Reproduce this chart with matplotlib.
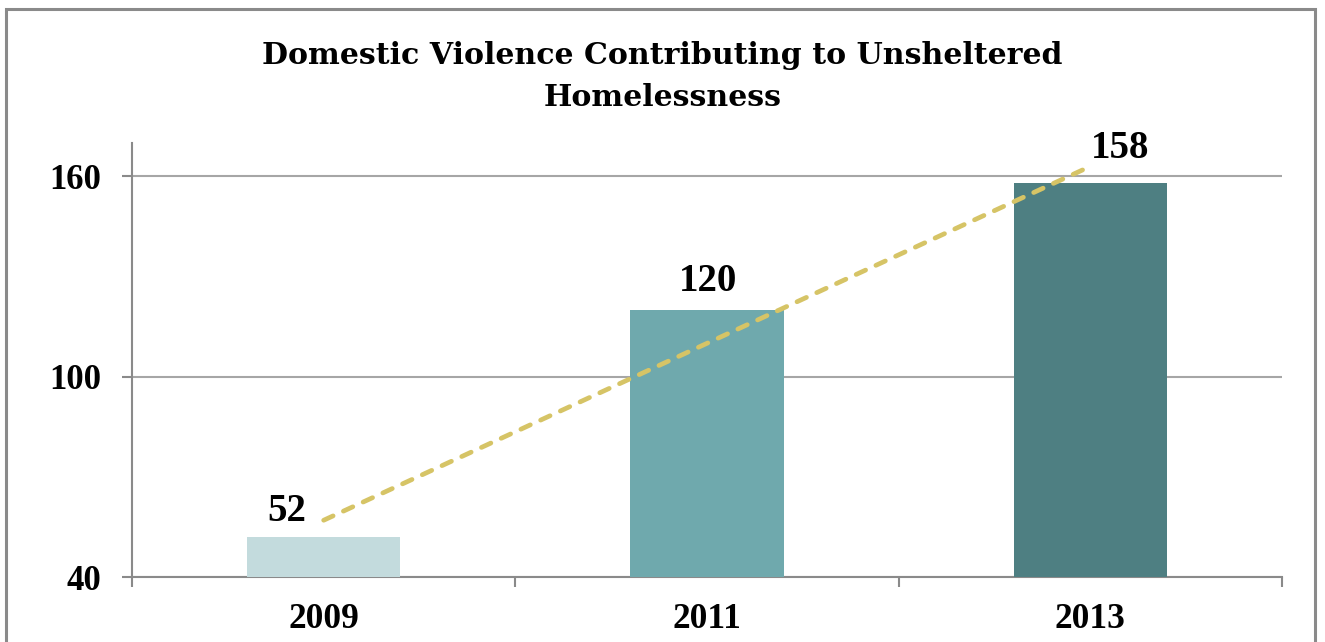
import matplotlib.pyplot as plt
import matplotlib.patches as mpatches
import numpy as np

# Datos
years = ['2009', '2011', '2013']
counts = [52, 120, 158]
bar_colors = ['#C3DBDD', '#6FA9AD', '#4E7F82']
# desplazamiento (px) de cada etiqueta de valor respecto a la parte superior de la barra
label_offsets = [(-37, 16), (1, 19), (30, 25)]

num_font = 'Liberation Serif'
title_font = 'DejaVu Serif'

fig = plt.figure(figsize=(13.25, 6.42), dpi=100)
ax = fig.add_axes([132/1325, 65/642, 1150/1325, 434/642])

x = np.arange(len(years))
ax.bar(x, counts, width=0.4, color=bar_colors, zorder=3)

# Línea de tendencia lineal
slope, intercept = np.polyfit(x, counts, 1)
ax.plot(x[[0, -1]], slope * x[[0, -1]] + intercept, color='#D6C466', lw=3.4,
        linestyle=(0, (2.2, 2.4)), dash_capstyle='round', zorder=4)

# Etiquetas de valor
for xi, v, (dx, dy) in zip(x, counts, label_offsets):
    ax.annotate(str(v), xy=(xi, v), xytext=(dx, dy), textcoords='offset pixels',
                ha='center', va='baseline', fontsize=28, fontweight='bold',
                family=num_font, zorder=5)

ax.set_xlim(-0.5, 2.5)
ax.set_ylim(40, 170)
yticks = [40, 100, 160]
ax.set_yticks(yticks)
ax.set_yticklabels([str(t) for t in yticks], family=num_font, fontweight='bold', fontsize=25)
ax.set_xticks([-0.5, 0.5, 1.5, 2.5])
ax.set_xticklabels([])
ax.set_xticks(x, minor=True)
ax.set_xticklabels(years, minor=True, family=num_font, fontweight='bold', fontsize=25.5)

gray = '#8A8A8A'
ax.tick_params(axis='x', which='major', direction='out', length=7, width=1.5, color=gray)
ax.tick_params(axis='x', which='minor', length=0, pad=19)
ax.tick_params(axis='y', direction='out', length=7, width=1.5, color=gray, pad=15)

ax.grid(axis='y', color='#A6A6A6', lw=1.5, zorder=0)
for s in ['top', 'right']:
    ax.spines[s].set_visible(False)
for s in ['left', 'bottom']:
    ax.spines[s].set_color(gray)
    ax.spines[s].set_linewidth(1.5)

# Título
fig.text(0.5, 1 - 55/642, 'Domestic Violence Contributing to Unsheltered',
         ha='center', va='center', fontsize=21.6, fontweight='bold', family=title_font)
fig.text(0.5, 1 - 97/642, 'Homelessness',
         ha='center', va='center', fontsize=21.6, fontweight='bold', family=title_font)

# Marco del gráfico
frame = mpatches.Rectangle((5.5/1325, -0.2), (1315 - 5.5)/1325, 1.2 - 9/642,
                           transform=fig.transFigure, fill=False, edgecolor=gray,
                           lw=2.2, clip_on=False)
fig.patches.append(frame)

fig.savefig('out.png', dpi=100)
